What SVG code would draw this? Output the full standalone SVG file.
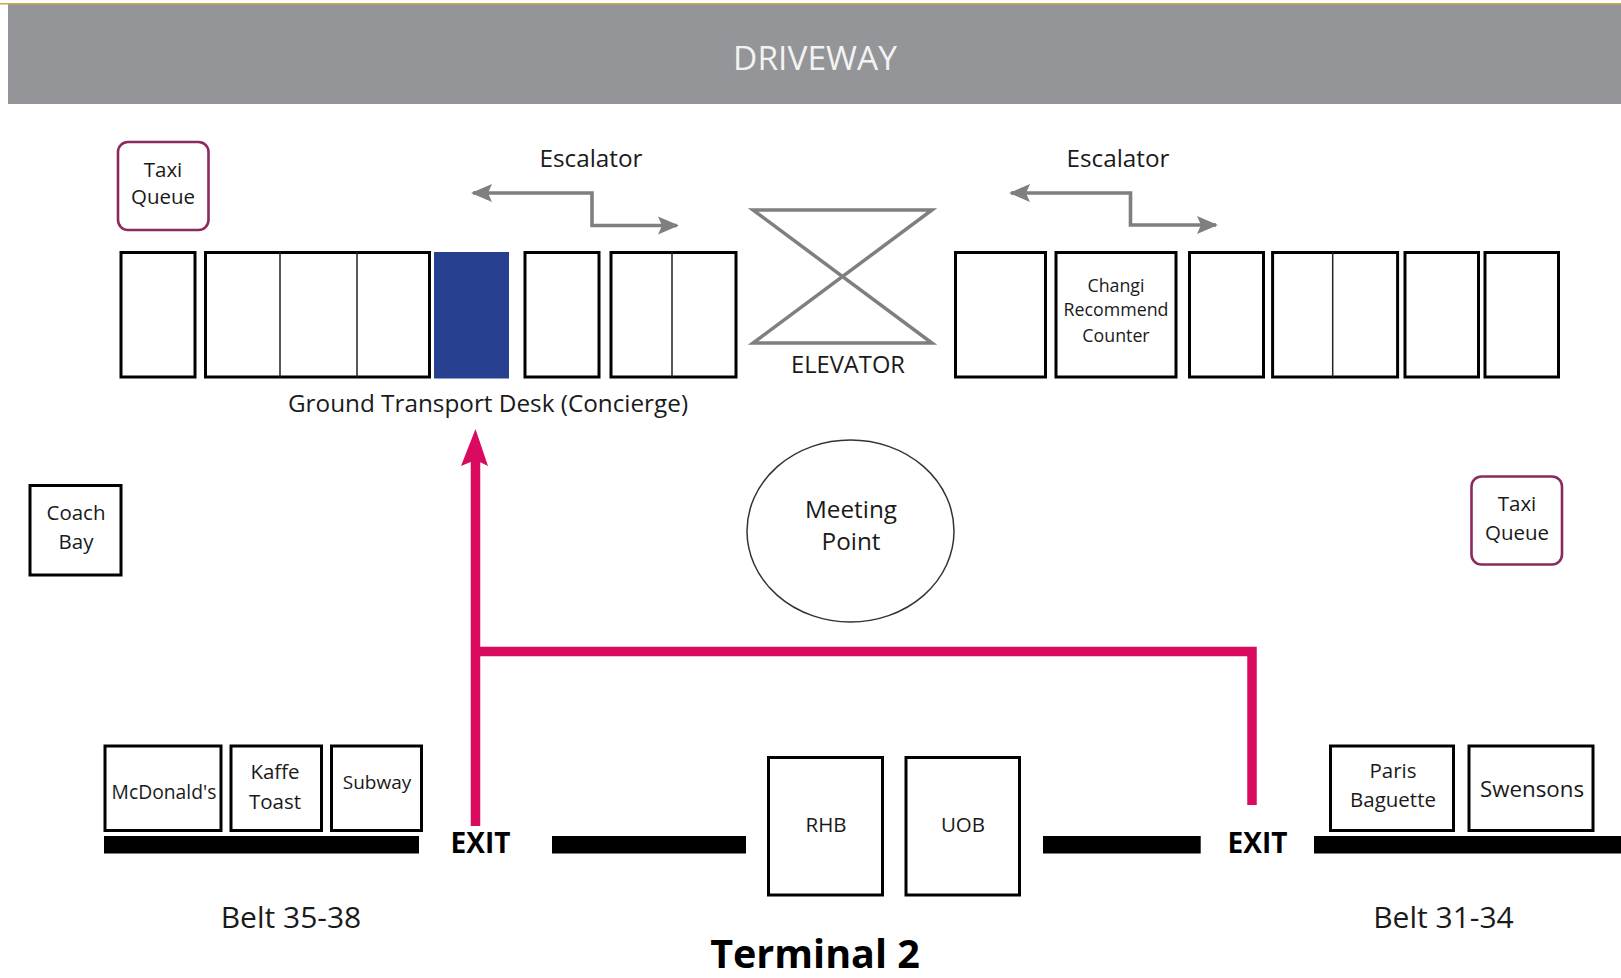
<svg xmlns="http://www.w3.org/2000/svg" width="1621" height="978" viewBox="0 0 1621 978">
<style>
text{font-family:"Open Sans","Liberation Sans",sans-serif;fill:#1a1a1a;text-anchor:middle}
.b{fill:#fff;stroke:#000;stroke-width:3}
.t{fill:#fff;stroke:#8a2a5e;stroke-width:2.6}
.d{stroke:#222;stroke-width:1.5;fill:none}
.s{font-size:20.500px}.m{font-size:24.300px}.l{font-size:30px}.x{font-size:17.800px}
.e{font-size:28px;font-weight:700;fill:#000}
.g{fill:none;stroke:#7f7f7f;stroke-width:3.600}
.p{fill:none;stroke:#d90a5f;stroke-width:9.500}
</style>
<defs>
<marker id="ga" markerUnits="userSpaceOnUse" markerWidth="22" markerHeight="20" refX="19" refY="10" orient="auto-start-reverse"><path d="M0 1L21 10L0 19L4 10Z" fill="#7f7f7f"/></marker>
</defs>
<rect width="1621" height="978" fill="#fff"/>
<g id="driveway"><rect x="8" y="4" width="1613" height="100" fill="#939598"/><rect x="0" y="3" width="1621" height="1.500" fill="#c9a84c"/><text x="815" y="70" font-size="33.500" style="fill:#f2f2f2">DRIVEWAY</text></g>
<g id="taxi-queue-1"><rect class="t" x="118" y="142" width="90.500" height="88" rx="10"/><text class="s" x="163" y="177">Taxi</text><text class="s" x="163" y="204">Queue</text></g>
<g id="desk-1"><rect class="b" x="121" y="252.500" width="74" height="124.500"/></g>
<g id="desk-2"><rect class="b" x="205.500" y="252.500" width="224" height="124.500"/><path class="d" d="M280 252V377M357 252V377"/></g>
<g id="concierge"><rect x="434" y="252" width="75" height="126.500" fill="#26408f"/></g>
<g id="desk-3"><rect class="b" x="525" y="252.500" width="74" height="124.500"/></g>
<g id="desk-4"><rect class="b" x="611" y="252.500" width="125" height="124.500"/><path class="d" d="M672 252V377"/></g>
<text class="m" id="concierge-label" x="488" y="412">Ground Transport Desk (Concierge)</text>
<text class="m" id="escalator-label-1" x="591" y="166.500">Escalator</text>
<text class="m" id="escalator-label-2" x="1118" y="166.500">Escalator</text>
<g id="elevator"><path d="M753 210H932L753 343H932Z" fill="none" stroke="#7f7f7f" stroke-width="3.500"/><text class="m" x="848" y="373" style="font-size:23.700px">ELEVATOR</text></g>
<g id="desk-5"><rect class="b" x="955.500" y="252.500" width="90" height="124.500"/></g>
<g id="changi"><rect class="b" x="1056" y="252.500" width="120" height="124.500"/><text class="x" x="1116" y="292">Changi</text><text class="x" x="1116" y="316">Recommend</text><text class="x" x="1116" y="342">Counter</text></g>
<g id="desk-6"><rect class="b" x="1189.500" y="252.500" width="74" height="124.500"/></g>
<g id="desk-7"><rect class="b" x="1272.600" y="252.500" width="125" height="124.500"/><path class="d" d="M1332.700 252V377"/></g>
<g id="desk-8"><rect class="b" x="1405" y="252.500" width="73.500" height="124.500"/></g>
<g id="desk-9"><rect class="b" x="1485" y="252.500" width="73.500" height="124.500"/></g>
<g id="coach-bay"><rect class="b" x="30" y="485.500" width="91" height="89.500"/><text class="s" x="76" y="520">Coach</text><text class="s" x="76" y="549">Bay</text></g>
<g id="meeting-point"><ellipse cx="850.500" cy="531" rx="103.500" ry="91" fill="#fff" stroke="#333" stroke-width="1.500"/><text class="m" x="851" y="518">Meeting</text><text class="m" x="851" y="550">Point</text></g>
<g id="taxi-queue-2"><rect class="t" x="1471.500" y="476.500" width="90.500" height="88" rx="10"/><text class="s" x="1517" y="511">Taxi</text><text class="s" x="1517" y="540">Queue</text></g>
<g id="connectors">
<path class="g" d="M473 193H592V225.500H677" marker-start="url(#ga)" marker-end="url(#ga)"/>
<path class="g" d="M1011 193H1130.500V225H1216" marker-start="url(#ga)" marker-end="url(#ga)"/>
<path class="p" d="M475.500 826V460"/>
<path class="p" d="M1252 805V651.500H475.500"/>
<path d="M475.500 429L488 466L475.500 460L461 466Z" fill="#d90a5f"/>
</g>
<g id="mcdonalds"><rect class="b" x="105" y="746" width="116" height="84.500"/><text class="s" x="164" y="799" style="font-size:19.300px">McDonald's</text></g>
<g id="kaffe-toast"><rect class="b" x="231" y="746" width="90.500" height="84.500"/><text class="s" x="275" y="779">Kaffe</text><text class="s" x="275" y="809">Toast</text></g>
<g id="subway"><rect class="b" x="331.500" y="746" width="90" height="84.500"/><text class="s" x="377" y="789" style="font-size:19px">Subway</text></g>
<g id="rhb"><rect class="b" x="768.500" y="757.500" width="114" height="137.500"/><text class="s" x="826" y="832">RHB</text></g>
<g id="uob"><rect class="b" x="906" y="757.500" width="113.500" height="137.500"/><text class="s" x="963" y="832">UOB</text></g>
<g id="paris-baguette"><rect class="b" x="1330.500" y="746" width="123" height="84.500"/><text class="s" x="1393" y="778">Paris</text><text class="s" x="1393" y="807">Baguette</text></g>
<g id="swensons"><rect class="b" x="1469" y="746" width="124" height="84.500"/><text class="s" x="1532" y="797" style="font-size:22.300px">Swensons</text></g>
<g id="walls"><rect x="104" y="836" width="315" height="17.500"/><rect x="552" y="836" width="194" height="17.500"/><rect x="1043" y="836" width="157.700" height="17.500"/><rect x="1314" y="836" width="307" height="17.500"/></g>
<text class="e" id="exit-1" x="480.500" y="853">EXIT</text>
<text class="e" id="exit-2" x="1257.500" y="853">EXIT</text>
<text class="l" id="belt-1" x="291" y="928">Belt 35-38</text>
<text class="l" id="belt-2" x="1443.500" y="928">Belt 31-34</text>
<text id="title" x="815" y="968" font-size="39.500" font-weight="700" style="fill:#000">Terminal 2</text>
</svg>
